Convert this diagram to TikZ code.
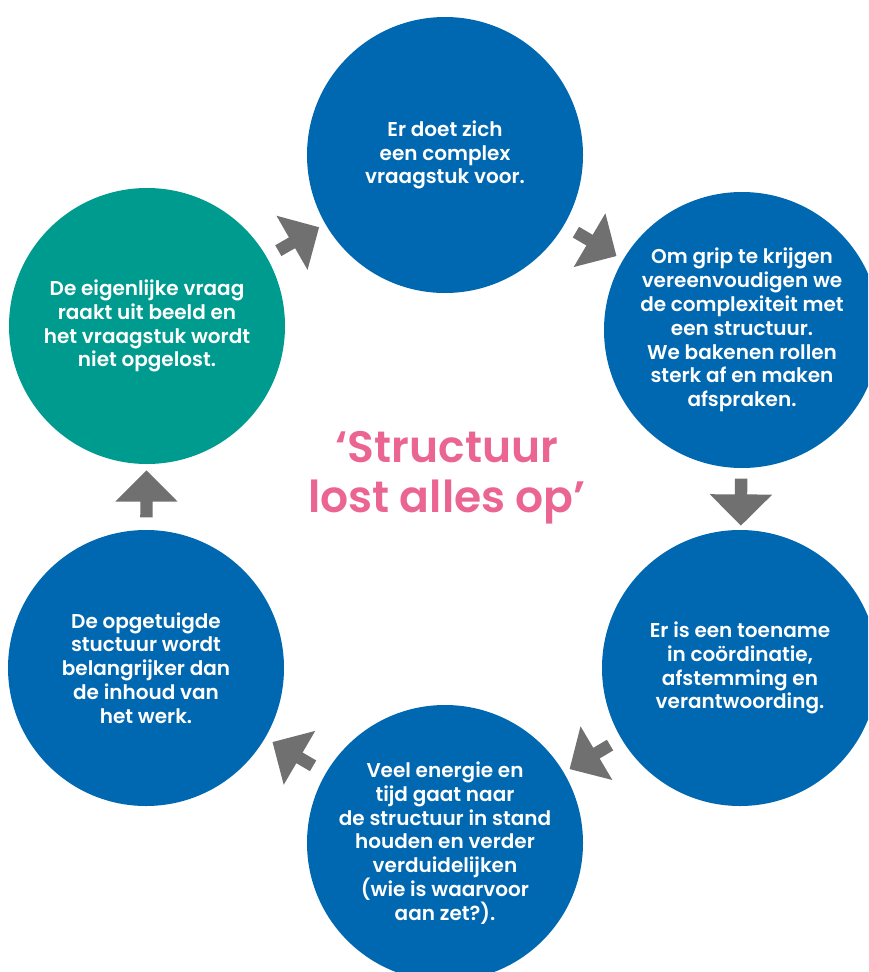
\documentclass[tikz,border=0pt]{standalone}
\usepackage{fontspec}
\setmainfont{Poppins}[BoldFont={Poppins SemiBold}]
\usetikzlibrary{shapes.arrows}
\definecolor{cycblue}{HTML}{0067B1}
\definecolor{cycteal}{HTML}{009B8F}
\definecolor{cycgray}{HTML}{707070}
\definecolor{cycpink}{HTML}{EB6592}
\tikzset{
  stage/.style={circle, fill=cycblue, minimum size=276pt, inner sep=0pt,
    text=white, align=center, font=\bfseries\fontsize{20}{23.8}\selectfont},
  turn/.style={single arrow, fill=cycgray, inner sep=0pt, inner ysep=6pt,
    minimum height=47pt, single arrow head extend=25pt,
    sloped, allow upside down, midway},
}
\begin{document}
\begin{tikzpicture}[x=1pt, y=-1pt]
    \useasboundingbox (0,0) rectangle (868,972);
    \clip (0,0) rectangle (868,972);
    \node[stage] (c1) at (445,155) {Er doet zich\\een complex\\vraagstuk voor.};
    \node[stage] (c2) at (742,330) {Om grip te krijgen\\vereenvoudigen we\\de complexiteit met\\een structuur.\\We bakenen rollen\\sterk af en maken\\afspraken.};
    \node[stage] (c3) at (740,668) {Er is een toename\\in coördinatie,\\afstemming en\\verantwoording.};
    \node[stage] (c4) at (445,843) {Veel energie en\\tijd gaat naar\\de structuur in stand\\houden en verder\\verduidelijken\\(wie is waarvoor\\aan zet?).};
    \node[stage] (c5) at (146,668) {De opgetuigde\\stuctuur wordt\\belangrijker dan\\de inhoud van\\het werk.};
    \node[stage, fill=cycteal] (c6) at (147,326) {De eigenlijke vraag\\raakt uit beeld en\\het vraagstuk wordt\\niet opgelost.};
    \node[text=cycpink, align=center, font=\bfseries\fontsize{44}{50}\selectfont] (motto) at (447,478) {‘Structuur\\lost alles op’};
    \path (c1.center) -- node[turn] {} (c2.center);
    \path (c2.center) -- node[turn] {} (c3.center);
    \path (c3.center) -- node[turn] {} (c4.center);
    \path (c4.center) -- node[turn] {} (c5.center);
    \path (c5.center) -- node[turn] {} (c6.center);
    \path (c6.center) -- node[turn] {} (c1.center);
\end{tikzpicture}
\end{document}
